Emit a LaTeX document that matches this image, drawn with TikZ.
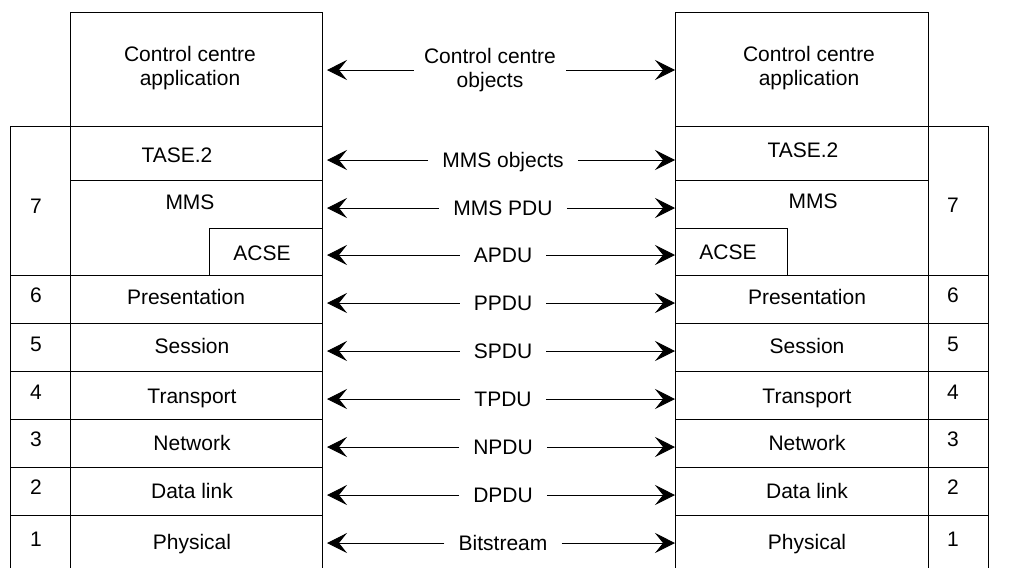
\documentclass[tikz,border=0pt]{standalone}
\usepackage{fontspec}
\setmainfont{Liberation Sans}
\usetikzlibrary{arrows.meta}

\tikzset{
  box/.style={line width=1pt},
  lbl/.style={font=\fontsize{21}{24}\selectfont, align=center, inner sep=0pt},
  txt/.style={lbl, text height=15pt, text depth=0pt},
  pdu/.style={txt, fill=white, inner xsep=14pt, inner ysep=3pt},
  flow/.style={line width=1pt, -{Stealth[length=20pt,width=20pt,inset=8pt]}}
}

\begin{document}
\begin{tikzpicture}[x=1pt,y=-1pt]
    \useasboundingbox (0,0) rectangle (1014,568);
    \clip (0,0) rectangle (1014,568);

    % Left stack
    \draw[box] (70,12) rectangle (322,126);
    \draw[box] (70,126) -- (70,568) (322,126) -- (322,568);
    \draw[box] (10,126) -- (70,126) (10,126) -- (10,568);
    \draw[box] (70,180) -- (322,180);
    \draw[box] (209,228) rectangle (322,275);
    \foreach \y in {275,323,371,419,467,515}
        \draw[box] (10,\y) -- (322,\y);

    % Right stack
    \draw[box] (675,12) rectangle (928,126);
    \draw[box] (675,126) -- (675,568) (928,126) -- (928,568);
    \draw[box] (928,126) -- (988,126) (988,126) -- (988,568);
    \draw[box] (675,180) -- (928,180);
    \draw[box] (675,228) rectangle (787,275);
    \foreach \y in {275,323,371,419,467,515}
        \draw[box] (675,\y) -- (988,\y);

    % Application and layer 7
    \node[lbl] (lapp) at (190,68) {Control centre\\application};
    \node[lbl] (rapp) at (809,68) {Control centre\\application};
    \node[txt] (ltase) at (177,155) {TASE.2};
    \node[txt] (rtase) at (803,150) {TASE.2};
    \node[txt] (lmms) at (190,202) {MMS};
    \node[txt] (rmms) at (813,201) {MMS};
    \node[txt] (lacse) at (262,252.5) {ACSE};
    \node[txt] (racse) at (728,252) {ACSE};
    \node[txt] (nl7) at (36,206) {7};
    \node[txt] (nr7) at (953,205) {7};

    % Peer arrows, upper part
    \node[lbl, fill=white, inner xsep=10pt, inner ysep=3pt] (cco) at (490,70) {Control centre\\objects};
    \coordinate (cco-l) at (327,70);
    \coordinate (cco-r) at (675,70);
    \draw[flow] (cco) -- (cco-l);
    \draw[flow] (cco) -- (cco-r);

    \foreach \p/\lab/\ay in {mmso/MMS objects/160, mmsp/MMS PDU/208, apdu/APDU/255} {
        \node[pdu] (\p) at (503,\ay) {\lab};
        \coordinate (\p-l) at (327,\ay);
        \coordinate (\p-r) at (675,\ay);
        \draw[flow] (\p) -- (\p-l);
        \draw[flow] (\p) -- (\p-r);
    }

    % Layers 6 to 1
    \foreach \n/\name/\pdu/\lx/\ty/\ny/\ay in {
        6/Presentation/PPDU/186/297/295/303,
        5/Session/SPDU/192/345.5/343.5/351,
        4/Transport/TPDU/192/396/391.5/399,
        3/Network/NPDU/192/442.5/438.5/447,
        2/Data link/DPDU/192/491/486.5/495,
        1/Physical/Bitstream/192/542/538.5/543} {
        \node[txt] (l\n) at (\lx,\ty) {\name};
        \node[txt] (r\n) at (807,\ty) {\name};
        \node[txt] (nl\n) at (36,\ny) {\n};
        \node[txt] (nr\n) at (953,\ny) {\n};
        \node[pdu] (p\n) at (503,\ay) {\pdu};
        \coordinate (p\n-l) at (327,\ay);
        \coordinate (p\n-r) at (675,\ay);
        \draw[flow] (p\n) -- (p\n-l);
        \draw[flow] (p\n) -- (p\n-r);
    }
\end{tikzpicture}
\end{document}
